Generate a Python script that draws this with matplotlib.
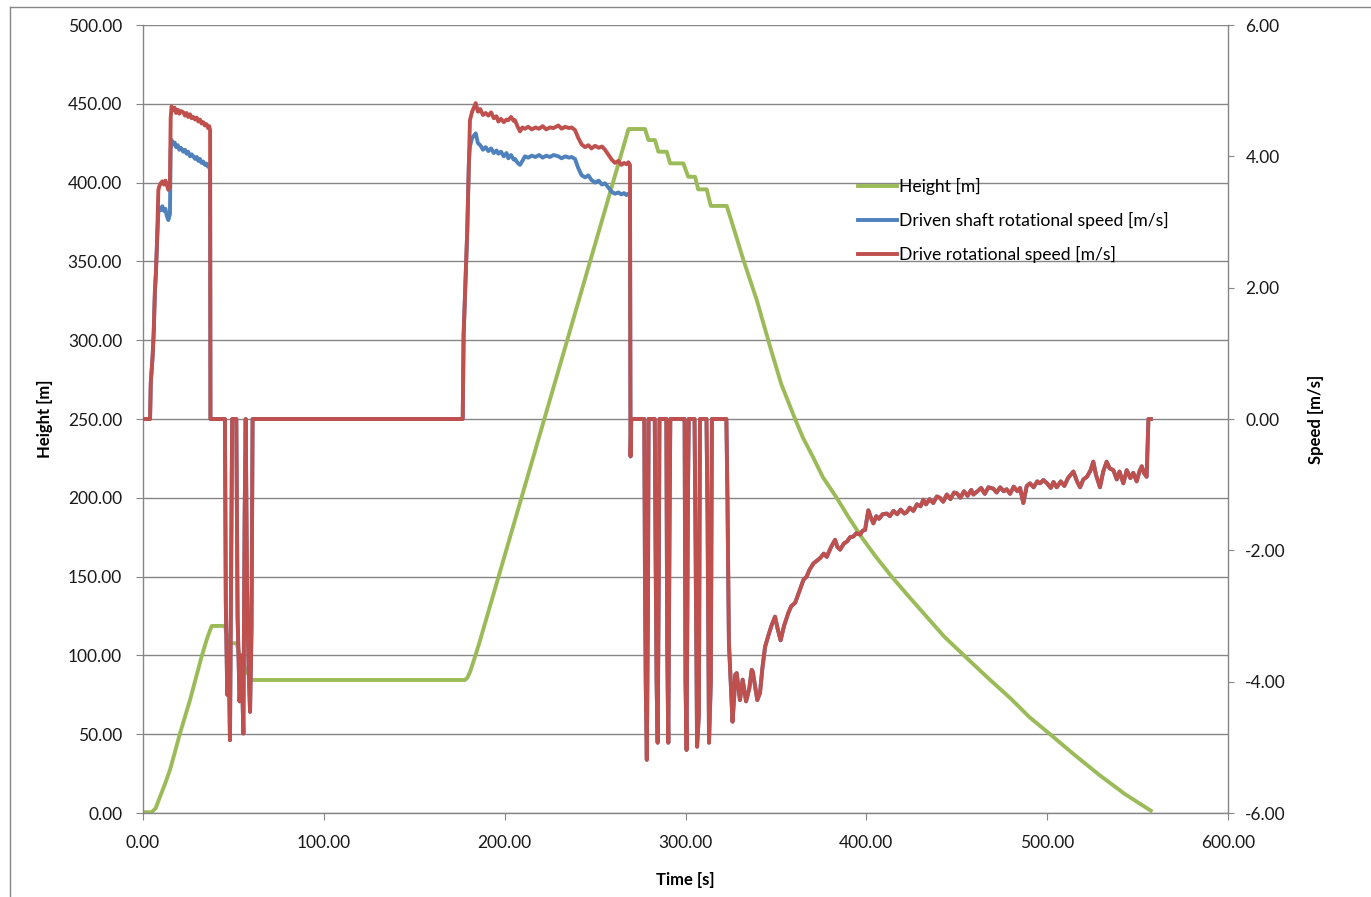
import numpy as np
import matplotlib.pyplot as plt
from matplotlib.lines import Line2D

plt.rcParams['font.family'] = ['Lato', 'DejaVu Sans']
plt.rcParams['axes.unicode_minus'] = False

GREEN, BLUE, RED = '#9BBB59', '#4F81BD', '#C0504D'
GRAY = '#868686'

# ---- Height [m] (left axis) ----
height_t = [0, 4.8, 7.0, 9.4, 12.0, 14.9, 17.5, 20.5, 26.0, 32.4, 35.5, 38.0, 45.3, 47.5,
            51.8, 53.5, 56.4, 60.1, 178.0, 179.5, 181.0, 183.0, 186.0, 268.5, 277.6, 279.5,
            283.1, 285.0, 289.6, 291.5, 298.8, 301.5, 305.3, 307.0, 311.7, 314.0, 322.8,
            326.4, 332.0, 339.4, 347.0, 353.0, 360.6, 365.0, 370.0, 376.0, 383.6, 390.0,
            398.0, 405.0, 414.0, 423.0, 433.0, 443.0, 454.0, 467.0, 480.4, 490.0, 501.6,
            515.0, 529.0, 543.0, 557.3]
height_m = [0.5, 0.5, 3, 10.3, 18, 27.3, 38, 50.7, 71.7, 99.2, 111, 118.7, 118.7, 107.7,
            107.7, 100, 92, 84.4, 84.4, 86, 90, 97, 108, 434, 434, 427,
            427, 419.6, 419.6, 412.2, 412.2, 403.7, 403.7, 395.7, 395.7, 385.2, 385.2,
            372, 351, 325.5, 295, 272, 250, 238, 227, 213, 200, 188,
            174, 163, 150, 138, 125, 112, 100, 86, 72, 61, 50,
            37, 24, 12, 1.5]

# ---- Speeds [m/s] (right axis), read in segments ----
# first acceleration: drive and driven shaft differ on the plateau
accel1_t = [0, 3.9, 4.3, 5.3, 5.9, 6.6, 7.1, 7.6, 8.5, 9.1,
            9.8, 10.7, 11.6, 12.4, 13.1, 14.0, 14.9, 15.3, 15.8, 16.6,
            17.5, 18.3, 19.2, 20.1, 21.0, 22.3, 23.2, 24.1, 25.0, 26.0,
            26.9, 27.8, 28.8, 29.7, 30.6, 31.5, 32.4, 33.3, 34.2, 35.1,
            36.0, 36.6, 37.1]
accel1_drive = [0, 0, 0.55, 0.95, 1.3, 1.96, 2.2, 2.57, 3.49, 3.55,
                3.59, 3.62, 3.57, 3.63, 3.58, 3.49, 3.55, 4.58, 4.76, 4.70,
                4.74, 4.66, 4.71, 4.65, 4.69, 4.67, 4.62, 4.66, 4.60, 4.64,
                4.58, 4.60, 4.56, 4.59, 4.53, 4.56, 4.50, 4.52, 4.47, 4.49,
                4.43, 4.46, 4.40]
accel1_driven = [0, 0, 0.55, 0.95, 1.3, 1.96, 2.2, 2.57, 3.15, 3.22,
                 3.18, 3.24, 3.17, 3.20, 3.10, 3.03, 3.12, 4.10, 4.25, 4.18,
                 4.21, 4.14, 4.17, 4.10, 4.13, 4.07, 4.10, 4.04, 4.07, 4.00,
                 4.03, 4.00, 3.96, 3.99, 3.93, 3.96, 3.90, 3.92, 3.87, 3.89,
                 3.84, 3.86, 3.84]

# stop with short reverse pulses (both traces overlap)
stop1_t = [37.3, 43.0, 45.3, 45.8, 46.6, 47.4, 48.1, 48.7, 49.3, 51.6, 52.3,
           53.4, 54.5, 55.5, 56.2, 56.8, 57.5, 58.4, 59.2, 60.0, 60.6, 176.8]
stop1_speed = [0, 0, 0, -2.8, -4.2, -3.6, -4.89, -2.5, 0, 0, -3.0,
               -4.3, -3.6, -4.79, -1.5, 0, -2.5, -3.8, -4.46, -3.2, 0, 0]

# second acceleration
accel2_t = [177.3, 178.5, 179.3, 180.2, 180.8, 182.0, 184.0, 185.2, 186.5, 188.0,
            189.5, 191.0, 192.5, 194.0, 195.5, 196.5, 198.0, 199.5, 201.0, 202.0,
            203.5, 205.0, 205.7, 207.2, 208.5, 209.8, 211.2, 213.0, 215.0, 217.0,
            219.0, 221.0, 223.0, 225.0, 227.0, 229.7, 231.5, 233.5, 235.5, 237.0,
            238.9, 240.7, 242.6, 244.5, 246.3, 248.0, 250.0, 252.0, 253.8, 255.5,
            257.5, 259.2, 261.0, 262.9, 264.5, 266.0, 267.3, 268.4, 269.3]
accel2_drive = [1.28, 2.2, 2.86, 3.9, 4.55, 4.68, 4.81, 4.68, 4.72, 4.63,
                4.66, 4.62, 4.67, 4.58, 4.61, 4.53, 4.57, 4.52, 4.56, 4.55,
                4.60, 4.54, 4.55, 4.45, 4.38, 4.44, 4.42, 4.45, 4.41, 4.44,
                4.42, 4.46, 4.41, 4.44, 4.43, 4.47, 4.42, 4.45, 4.43, 4.44,
                4.40, 4.28, 4.18, 4.14, 4.17, 4.12, 4.16, 4.13, 4.15, 4.10,
                4.02, 3.95, 3.90, 3.93, 3.87, 3.90, 3.88, 3.91, 3.87]
accel2_driven = [1.28, 2.2, 2.86, 3.9, 4.15, 4.28, 4.35, 4.20, 4.17, 4.10,
                 4.14, 4.08, 4.12, 4.05, 4.09, 4.04, 4.07, 4.00, 4.05, 3.97,
                 4.02, 3.95, 3.96, 3.90, 3.87, 3.93, 4.00, 3.98, 4.01, 3.99,
                 4.02, 3.98, 4.01, 3.99, 4.02, 4.00, 3.97, 4.00, 3.98, 3.99,
                 3.96, 3.82, 3.71, 3.68, 3.71, 3.64, 3.60, 3.63, 3.57, 3.59,
                 3.52, 3.46, 3.43, 3.45, 3.42, 3.44, 3.41, 3.43, 3.42]

# descent (both traces overlap)
descent_t = [269.6, 270.0, 270.4, 277.2, 277.6, 278.0, 278.6, 279.2, 279.6, 283.0,
             283.4, 284.0, 284.6, 285.2, 285.6, 289.4, 289.9, 290.5, 291.2, 291.6,
             299.5, 300.0, 300.6, 301.4, 301.8, 305.0, 305.6, 306.4, 307.4, 308.0,
             311.6, 312.2, 313.0, 314.0, 314.6, 322.6, 323.2, 324.0, 325.0, 326.0,
             327.0, 327.4, 328.3, 330.1, 331.6, 333.5, 335.3, 336.6, 337.2, 339.7,
             341.2, 342.5, 344.0, 345.8, 347.5, 349.5, 351.0, 352.6, 354.5, 356.9,
             358.5, 360.6, 363.0, 365.2, 367.0, 368.5, 370.7, 373.0, 374.4, 376.5,
             378.1, 380.5, 382.7, 384.0, 385.5, 387.5, 389.5, 391.0, 392.8, 394.5,
             396.5, 398.0, 399.3, 401.1, 402.5, 403.9, 405.5, 407.0, 409.0, 411.3,
             413.0, 415.0, 417.0, 419.0, 421.0, 422.3, 424.0, 426.0, 428.0, 430.0,
             431.5, 433.0, 435.0, 437.0, 439.0, 440.7, 442.5, 444.5, 446.5, 448.5,
             450.0, 452.0, 454.0, 456.0, 458.0, 459.2, 461.5, 463.5, 465.5, 467.5,
             470.2, 472.0, 474.0, 476.0, 477.6, 479.5, 481.5, 483.5, 485.0, 486.8,
             488.7, 490.5, 492.5, 494.5, 496.0, 497.9, 500.0, 502.0, 503.5, 505.3,
             507.5, 509.5, 511.5, 513.0, 514.5, 516.5, 518.2, 520.0, 522.0, 524.0,
             525.5, 527.0, 529.2, 531.0, 532.9, 534.5, 536.6, 538.5, 540.0, 542.1,
             544.0, 546.0, 547.6, 549.5, 551.0, 552.3, 553.5, 555.0, 556.0, 557.3]
descent_speed = [-0.57, 0, 0, 0, -2.5, -4.0, -5.19, -3.0, 0, 0,
                 -1.8, -4.0, -4.93, -2.5, 0, 0, -3.5, -4.93, -1.5, 0,
                 0, -4.0, -5.04, -1.0, 0, 0, -2.0, -4.99, -4.5, 0,
                 0, -1.5, -4.93, -4.0, 0, 0, -1.2, -3.4, -4.0, -4.61,
                 -4.2, -3.9, -3.87, -4.28, -3.97, -4.30, -4.10, -3.82, -3.85, -4.28,
                 -4.17, -3.80, -3.47, -3.30, -3.15, -3.01, -3.20, -3.37, -3.15, -2.95,
                 -2.85, -2.80, -2.62, -2.45, -2.40, -2.30, -2.20, -2.15, -2.12, -2.05,
                 -2.10, -1.95, -1.84, -1.95, -1.99, -1.90, -1.86, -1.80, -1.79, -1.74,
                 -1.76, -1.70, -1.69, -1.39, -1.50, -1.59, -1.48, -1.52, -1.45, -1.44,
                 -1.48, -1.40, -1.45, -1.38, -1.44, -1.42, -1.35, -1.40, -1.30, -1.33,
                 -1.23, -1.30, -1.22, -1.28, -1.18, -1.20, -1.26, -1.15, -1.22, -1.12,
                 -1.13, -1.20, -1.10, -1.17, -1.08, -1.15, -1.10, -1.05, -1.14, -1.04,
                 -1.06, -1.12, -1.04, -1.10, -1.07, -1.14, -1.03, -1.10, -1.05, -1.28,
                 -1.02, -0.98, -1.04, -0.95, -0.98, -0.93, -0.98, -1.05, -0.96, -1.04,
                 -0.95, -1.02, -0.90, -0.85, -0.80, -0.95, -1.04, -0.92, -0.88, -0.78,
                 -0.65, -0.85, -1.04, -0.80, -0.65, -0.75, -0.78, -0.92, -0.80, -0.98,
                 -0.78, -0.90, -0.82, -0.95, -0.80, -0.72, -0.82, -0.88, 0.0, 0.0]

speed_t = accel1_t + stop1_t + accel2_t + descent_t
drive = accel1_drive + stop1_speed + accel2_drive + descent_speed
driven = accel1_driven + stop1_speed + accel2_driven + descent_speed

# ---- figure ----
W, H = 1371, 897
fig = plt.figure(figsize=(W / 100, H / 100), dpi=100)
fig.patch.set_facecolor('white')
# chart-area border (left and top edges are visible)
fig.add_artist(Line2D([10 / W, 1.0], [1 - 7 / H, 1 - 7 / H], color=GRAY, lw=1))
fig.add_artist(Line2D([10 / W, 10 / W], [0, 1 - 7 / H], color=GRAY, lw=1))

ax = fig.add_axes([143 / W, 1 - 813 / H, (1228 - 143) / W, (813 - 25) / H])
ax2 = ax.twinx()

LW = 2.8
l1, = ax.plot(height_t, height_m, color=GREEN, lw=LW, label='Height [m]')
l2, = ax2.plot(speed_t, driven, color=BLUE, lw=LW,
               label='Driven shaft rotational speed [m/s]')
l3, = ax2.plot(speed_t, drive, color=RED, lw=LW,
               label='Drive rotational speed [m/s]')

ax.set_xlim(0, 600)
ax.set_ylim(0, 500)
ax2.set_ylim(-6, 6)
ax.set_xticks(np.arange(0, 601, 100))
ax.set_yticks(np.arange(0, 501, 50))
ax2.set_yticks(np.arange(-6, 7, 2))
fmt = '{x:.2f}'
ax.xaxis.set_major_formatter(fmt)
ax.yaxis.set_major_formatter(fmt)
ax2.yaxis.set_major_formatter(fmt)

ax.grid(axis='y', color=GRAY, lw=1)
ax.set_axisbelow(True)

for a in (ax, ax2):
    a.spines['top'].set_visible(False)
    for s in a.spines.values():
        s.set_color(GRAY)
        s.set_linewidth(1)
ax.spines['right'].set_visible(False)
ax2.spines['left'].set_visible(False)
ax2.spines['bottom'].set_visible(False)

ax.tick_params(axis='y', length=5, color=GRAY, labelsize=12.5, pad=10, labelcolor='#1a1a1a')
ax.tick_params(axis='x', length=5, color=GRAY, labelsize=12.5, pad=11, labelcolor='#1a1a1a')
ax2.tick_params(axis='y', length=4, color=GRAY, labelsize=12.5, pad=8.5, labelcolor='#1a1a1a')

ax.set_ylabel('Height [m]', fontsize=12, fontweight='bold')
ax2.set_ylabel('Speed [m/s]', fontsize=12, fontweight='bold', rotation=90)
ax.set_xlabel('Time [s]', fontsize=12, fontweight='bold')
ax.yaxis.set_label_coords((45 - 143) / 1085, 0.5)
ax2.yaxis.set_label_coords((1316 - 143) / 1085, 0.5)
ax.xaxis.set_label_coords(0.5, (813 - 880) / 788)
ax.yaxis.label.set_va('center')
ax2.yaxis.label.set_va('center')
ax.xaxis.label.set_va('center')

ax2.legend([l1, l2, l3], [l.get_label() for l in (l1, l2, l3)],
           loc='upper left', bbox_to_anchor=(858 / W, 1 - 178 / H),
           bbox_transform=fig.transFigure, frameon=False, fontsize=12.6,
           handlelength=2.2, handletextpad=0.15, labelspacing=0.97,
           borderpad=0, borderaxespad=0)

fig.savefig('out.png', dpi=100)
